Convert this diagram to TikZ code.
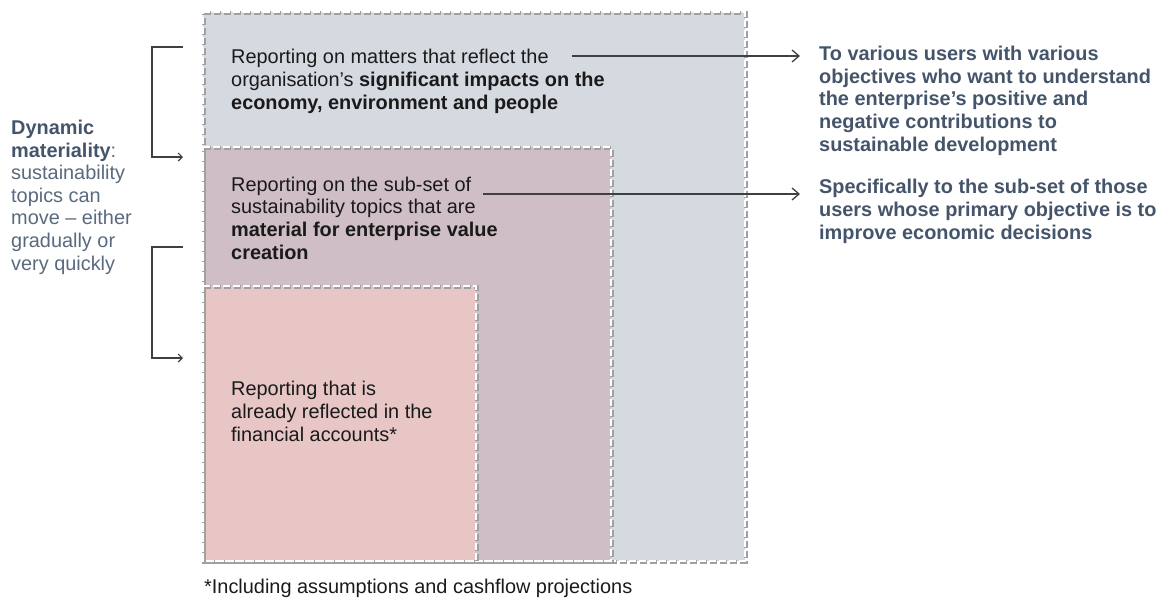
\documentclass[tikz,border=0pt]{standalone}
\usepackage{fontspec}
\setmainfont{Liberation Sans}
\usetikzlibrary{arrows.meta}
\definecolor{outerfill}{HTML}{D5D9E0}
\definecolor{midfill}{HTML}{D0BEC6}
\definecolor{innerfill}{HTML}{E8C6C6}
\definecolor{edgeshade}{HTML}{A0A0A0}
\definecolor{inktext}{HTML}{1A1A1A}
\definecolor{slate}{HTML}{44546A}
\definecolor{slatelight}{HTML}{5A6A7E}
\definecolor{lineink}{HTML}{404040}
\begin{document}
\begin{tikzpicture}[x=1pt,y=-1pt,
  dashedge/.style={line width=2pt,white,dash pattern=on 7pt off 3pt},
  shadeedge/.style={line width=3.4pt,edgeshade,dash pattern=on 7pt off 3pt},
  boxtext/.style={anchor=base west,inner sep=0pt,align=left,text=inktext,
    font=\fontsize{19.9}{22.6}\selectfont},
  sidetext/.style={anchor=base west,inner sep=0pt,align=left,text=slate,
    font=\fontsize{19.9}{22.6}\selectfont\bfseries},
  pointer/.style={draw=lineink,line width=1.3pt,-{Straight Barb[length=7pt,width=12pt,line width=1.3pt]}},
  bracket/.style={draw=lineink,line width=1.3pt,-{Straight Barb[length=4pt,width=8pt,line width=1.2pt]}}]
\useasboundingbox (0,0) rectangle (1162,598);

% nested panels
\fill[outerfill] (203,12) rectangle (745,561);
\fill[midfill] (203,147) rectangle (611,561);
\fill[innerfill] (203,286) rectangle (476,561);
\foreach \x/\y in {745/12, 611/147, 476/286}{
  \draw[shadeedge,shift={(0.8,0.8)}] (203,\y) -- (\x,\y) -- (\x,561) -- (203,561) -- cycle;
  \draw[dashedge] (203,\y) -- (\x,\y) -- (\x,561) -- (203,561) -- cycle;
}

% panel texts (anchored at the baseline of their last line)
\node[boxtext] (impact) at (231,109) {Reporting on matters that reflect the\\
  organisation’s \textbf{significant impacts on the}\\
  \textbf{economy, environment and people}};
\node[boxtext] (value) at (231,259) {Reporting on the sub-set of\\
  sustainability topics that are\\
  \textbf{material for enterprise value}\\
  \textbf{creation}};
\node[boxtext] (financial) at (231,441) {Reporting that is\\
  already reflected in the\\
  financial accounts*};

% audiences
\node[sidetext] (users) at (819,151) {To various users with various\\
  objectives who want to understand\\
  the enterprise’s positive and\\
  negative contributions to\\
  sustainable development};
\node[sidetext] (investors) at (819,239) {Specifically to the sub-set of those\\
  users whose primary objective is to\\
  improve economic decisions};

% dynamic materiality note
\node[anchor=base west,inner sep=0pt,align=left,text=slatelight,
  font=\fontsize{19.9}{22.6}\selectfont] (dynamic) at (11,270)
  {\textcolor{slate}{\textbf{Dynamic}}\\
   \textcolor{slate}{\textbf{materiality}}:\\
   sustainability\\ topics can\\ move – either\\ gradually or\\ very quickly};

\node[anchor=base west,inner sep=0pt,text=inktext,
  font=\fontsize{19.9}{22.6}\selectfont] (note) at (204,593)
  {*Including assumptions and cashflow projections};

% pointers from panels to audiences
\coordinate (p1s) at (572,56);
\coordinate (p1e) at (800,56);
\coordinate (p2s) at (483,194);
\coordinate (p2e) at (800,194);
\draw[pointer] (p1s) -- (p1e);
\draw[pointer] (p2s) -- (p2e);

% brackets
\coordinate (b1a) at (183,47);
\coordinate (b1b) at (183,157);
\coordinate (b2a) at (183,247);
\coordinate (b2b) at (183,358);
\draw[bracket] (b1a) -- (152,47) -- (152,157) -- (b1b);
\draw[bracket] (b2a) -- (152,247) -- (152,358) -- (b2b);
\end{tikzpicture}
\end{document}
